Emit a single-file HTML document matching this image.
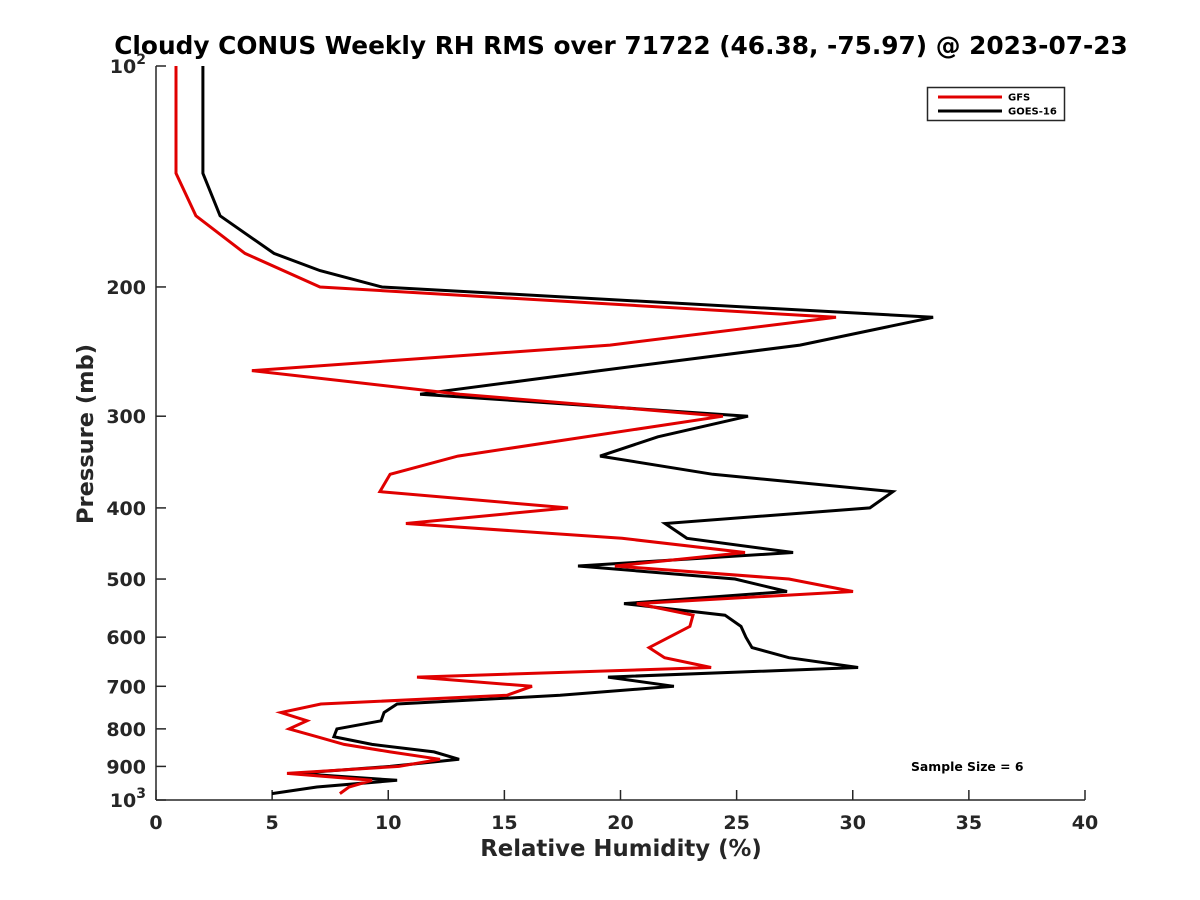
<!DOCTYPE html>
<html><head><meta charset="utf-8"><style>
body{margin:0;background:#fff;}
svg{display:block;font-family:"DejaVu Sans","Liberation Sans",sans-serif;}
</style></head><body>
<svg id="chart" width="1200" height="900" viewBox="0 0 1200 900">
<rect width="1200" height="900" fill="#fff"/>
<text x="621" y="54" text-anchor="middle" font-size="24.8" font-weight="bold" fill="#000">Cloudy CONUS Weekly RH RMS over 71722 (46.38, -75.97) @ 2023-07-23</text>
<g id="axes"></g>
<g id="series"></g>
<g>
<rect x="927.5" y="87.5" width="137" height="33" fill="#fff" stroke="#262626" stroke-width="1.5"/>
<line x1="938" y1="97" x2="1002" y2="97" stroke="#e00000" stroke-width="3"/>
<text x="1008" y="100.5" font-size="10" font-weight="bold" fill="#000">GFS</text>
<line x1="938" y1="111" x2="1002" y2="111" stroke="#000" stroke-width="3"/>
<text x="1008" y="114.5" font-size="10" font-weight="bold" fill="#000">GOES-16</text>
</g>
<text x="911" y="771" font-size="12.4" font-weight="bold" fill="#000">Sample Size = 6</text>
<text x="621" y="856" text-anchor="middle" font-size="22.8" font-weight="bold" fill="#262626">Relative Humidity (%)</text>
<text transform="translate(93,434) rotate(-90)" text-anchor="middle" font-size="22.5" font-weight="bold" fill="#262626">Pressure (mb)</text>
</svg>
<script>
const levels = [100,140,160,180,190,200,220,240,260,280,300,320,340,360,380,400,420,440,460,480,500,520,540,560,580,600,620,640,660,680,700,720,740,760,780,800,820,840,860,880,900,920,940,960,980];
const gfsRms = [0.86,0.86,1.72,3.83,null,7.06,29.28,19.55,4.13,13.09,24.41,null,13.0,10.08,9.64,17.74,10.76,20.06,25.36,19.76,27.25,30.01,20.7,23.12,22.99,null,21.23,21.9,23.9,11.24,16.19,15.11,7.1,5.38,6.5,5.73,6.93,8.1,10.08,12.23,10.46,5.64,9.3,8.31,7.92];
const goesRms = [2.02,2.02,2.76,5.08,7.06,9.73,33.46,27.73,19.12,11.37,25.49,21.61,19.12,23.98,31.73,30.74,21.92,22.86,27.43,18.17,24.93,27.17,20.15,24.5,25.19,25.4,25.66,27.25,30.23,19.46,22.3,17.4,10.38,9.82,9.69,7.79,7.66,9.3,11.97,13.05,10.08,6.03,10.38,6.93,4.99];
const xTicks = [0,5,10,15,20,25,30,35,40];
const yTicks = [100,200,300,400,500,600,700,800,900,1000];
const yTickLabels = ["10²","200","300","400","500","600","700","800","900","10³"];

const NS="http://www.w3.org/2000/svg";
const L=156,R=1085,T=66,B=800;
const xs=v=>L+(v-0)/(40-0)*(R-L);
const ys=p=>T+(Math.log10(p)-2)*(B-T);
function mk(tag,attrs,parent){const e=document.createElementNS(NS,tag);for(const k in attrs)e.setAttribute(k,attrs[k]);parent.appendChild(e);return e;}
const ax=document.getElementById('axes');
const c="#262626";
let e=mk('line',{x1:L,y1:T,x2:L,y2:B,stroke:c,'stroke-width':1.5},ax);


e=mk('line',{x1:L,y1:B,x2:R,y2:B,stroke:c,'stroke-width':1.5},ax);


xTicks.forEach(v=>{
  const x=xs(v);
  let t=mk('line',{x1:x,y1:B,x2:x,y2:B-10,stroke:c,'stroke-width':1.5},ax);
  
  
  let lb=mk('text',{x:x,y:B+29,'text-anchor':'middle','font-size':19,'font-weight':'bold',fill:c},ax);
  lb.textContent=v;
  
  
});
yTicks.forEach((p,i)=>{
  const y=ys(p);
  let t=mk('line',{x1:L,y1:y,x2:L+10,y2:y,stroke:c,'stroke-width':1.5},ax);
  
  
  let lb=mk('text',{x:L-10,y:y+7,'text-anchor':'end','font-size':19,'font-weight':'bold',fill:c},ax);
  const s=yTickLabels[i];
  if(s.length===3&&/[²³]/.test(s)){
    lb.textContent="10";
    const sup=mk('tspan',{dy:-9,'font-size':14},lb);sup.textContent=s[2]==='²'?'2':'3';
  } else lb.textContent=s;
  
  
});
const sg=document.getElementById('series');
function draw(vals,color,name){
  const pts=[];
  levels.forEach((p,i)=>{if(vals[i]!=null)pts.push(xs(vals[i]).toFixed(1)+','+ys(p).toFixed(1));});
  const pl=mk('polyline',{points:pts.join(' '),fill:'none',stroke:color,'stroke-width':3,'stroke-linejoin':'miter'},sg);
  
  
}
draw(goesRms,'#000','goes16-line');
draw(gfsRms,'#e00000','gfs-line');
</script>
</body></html>
